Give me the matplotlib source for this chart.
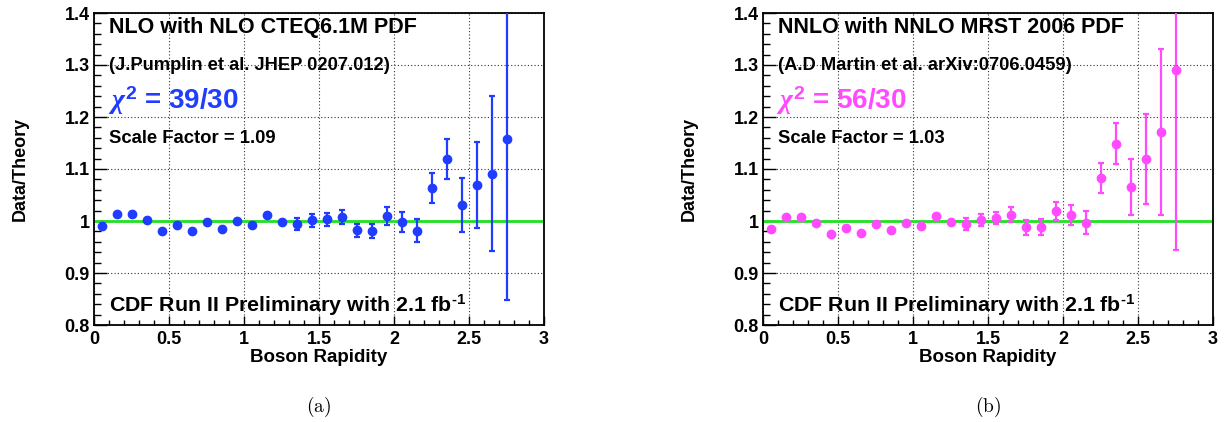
import matplotlib
matplotlib.use("Agg")
import matplotlib.pyplot as plt
from matplotlib.ticker import MultipleLocator

plt.rcParams['font.family'] = ['Liberation Sans', 'DejaVu Sans']
plt.rcParams['font.weight'] = 'bold'
plt.rcParams['mathtext.fontset'] = 'custom'
plt.rcParams['mathtext.rm'] = 'Liberation Sans:bold'
plt.rcParams['mathtext.bf'] = 'Liberation Sans:bold'
plt.rcParams['mathtext.it'] = 'Liberation Serif:italic'

rapidity = [0.05, 0.15, 0.25, 0.35, 0.45, 0.55, 0.65, 0.75, 0.85, 0.95,
            1.05, 1.15, 1.25, 1.35, 1.45, 1.55, 1.65, 1.75, 1.85, 1.95,
            2.05, 2.15, 2.25, 2.35, 2.45, 2.55, 2.65, 2.75]

nlo_ratio = [0.991, 1.013, 1.014, 1.001, 0.980, 0.992, 0.981, 0.999, 0.985, 1.000,
             0.993, 1.012, 0.999, 0.994, 1.001, 1.003, 1.008, 0.982, 0.981, 1.009,
             0.998, 0.981, 1.063, 1.119, 1.031, 1.069, 1.091, 1.158]
nlo_err = [0.003, 0.003, 0.003, 0.003, 0.003, 0.003, 0.003, 0.003, 0.003, 0.003,
           0.003, 0.003, 0.003, 0.012, 0.012, 0.012, 0.013, 0.013, 0.014, 0.017,
           0.019, 0.022, 0.029, 0.039, 0.052, 0.082, 0.149, 0.310]

nnlo_ratio = [0.985, 1.007, 1.008, 0.996, 0.975, 0.987, 0.976, 0.994, 0.982, 0.997,
              0.990, 1.010, 0.998, 0.994, 1.002, 1.006, 1.012, 0.988, 0.989, 1.019,
              1.011, 0.997, 1.083, 1.149, 1.065, 1.119, 1.171, 1.290]
nnlo_err = [0.003, 0.003, 0.003, 0.003, 0.003, 0.003, 0.003, 0.003, 0.003, 0.003,
            0.003, 0.003, 0.003, 0.012, 0.012, 0.012, 0.014, 0.014, 0.015, 0.017,
            0.019, 0.022, 0.029, 0.040, 0.054, 0.086, 0.160, 0.345]

panels = [
    dict(y=nlo_ratio, e=nlo_err, color='#1f3cff',
         title='NLO with NLO CTEQ6.1M PDF',
         ref='(J.Pumplin et al. JHEP 0207.012)',
         chi='39/30', scale='Scale Factor = 1.09', tag='(a)'),
    dict(y=nnlo_ratio, e=nnlo_err, color='#ff4aff',
         title='NNLO with NNLO MRST 2006 PDF',
         ref='(A.D Martin et al. arXiv:0706.0459)',
         chi='56/30', scale='Scale Factor = 1.03', tag='(b)'),
]

fig = plt.figure(figsize=(12.24, 4.22), dpi=100)
lefts = [94 / 1224, 763 / 1224]
for p, left in zip(panels, lefts):
    ax = fig.add_axes([left, 97 / 422, 450 / 1224, 312 / 422])
    ax.set_xlim(0, 3)
    ax.set_ylim(0.8, 1.4)
    ax.xaxis.set_minor_locator(MultipleLocator(0.1))
    ax.yaxis.set_minor_locator(MultipleLocator(0.02))
    ax.set_xticks([0, 0.5, 1, 1.5, 2, 2.5, 3])
    ax.set_xticklabels(['0', '0.5', '1', '1.5', '2', '2.5', '3'])
    ax.set_yticks([0.8, 0.9, 1.0, 1.1, 1.2, 1.3, 1.4])
    ax.set_yticklabels(['0.8', '0.9', '1', '1.1', '1.2', '1.3', '1.4'])
    ax.tick_params(axis='both', which='both', direction='in', labelsize=13,
                   top=False, right=False, width=1)
    ax.tick_params(axis='y', which='major', length=9.7, pad=3)
    ax.tick_params(axis='y', which='minor', length=4.9)
    ax.tick_params(axis='x', which='major', length=6.7, pad=4)
    ax.tick_params(axis='x', which='minor', length=3.4)
    for lab in ax.get_xticklabels() + ax.get_yticklabels():
        lab.set_fontweight('bold')
    for s in ax.spines.values():
        s.set_linewidth(1.3)
    ax.grid(True, which='major', linestyle=(0, (1, 2)), color='#333333', linewidth=0.8)
    ax.axhline(1.0, color='#22e022', linewidth=2, zorder=2)
    ax.errorbar(rapidity, p['y'], yerr=p['e'], fmt='o', color=p['color'],
                markersize=6, elinewidth=1.6, capsize=2.5, capthick=1.6,
                zorder=3, clip_on=True)
    ax.set_xlabel('Boson Rapidity', fontsize=13.5, fontweight='bold', labelpad=1)
    ax.set_ylabel('Data/Theory', fontsize=13, fontweight='bold', labelpad=26)
    ax.text(0.1, 1.361, p['title'], fontsize=15.5, fontweight='bold', va='baseline')
    ax.text(0.1, 1.290, p['ref'], fontsize=13.2, fontweight='bold', va='baseline')
    ax.text(0.09, 1.215, r'$\chi^{2}$ = ' + p['chi'], fontsize=20, fontweight='bold',
            color=p['color'], va='baseline')
    ax.text(0.1, 1.150, p['scale'], fontsize=13.3, fontweight='bold', va='baseline')
    ax.text(0.1, 0.825, r'CDF Run II Preliminary with 2.1 fb$^{\text{-1}}$', fontsize=15.4,
            fontweight='bold', va='baseline')
    fig.text(left + 225 / 1224, 1 - 407 / 422, r'$\mathrm{' + p['tag'] + '}$', fontsize=14,
             fontweight='normal', ha='center', va='center', math_fontfamily='cm')

fig.savefig('out.png', dpi=100)
